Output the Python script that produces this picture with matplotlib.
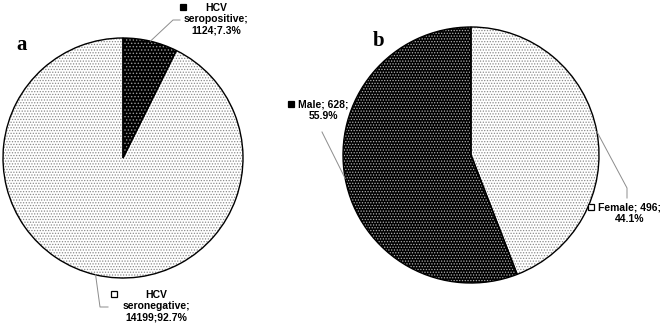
import matplotlib.pyplot as plt
import numpy as np
from matplotlib.patches import Rectangle

# data
hcv_labels = ["HCV\nseropositive;\n1124;7.3%", "HCV\nseronegative;\n14199;92.7%"]
hcv_counts = [1124, 14199]
sex_labels = ["Male; 628;\n55.9%", "Female; 496;\n44.1%"]
sex_counts = [628, 496]

W, H = 662, 327
plt.rcParams["font.family"] = ["Liberation Sans", "DejaVu Sans"]
plt.rcParams["hatch.linewidth"] = 0.6

fig = plt.figure(figsize=(W / 100, H / 100), dpi=100)
ax = fig.add_axes([0, 0, 1, 1])


def py(y):
    # pixel row -> data y
    return H - y


# pie a: seropositive first, clockwise from top
wa, _ = ax.pie(hcv_counts, center=(123, py(158)), radius=120, startangle=90,
               counterclock=False, wedgeprops=dict(linewidth=0))
# pie b: female first, clockwise from top
wb, _ = ax.pie(sex_counts[::-1], center=(471, py(155)), radius=128, startangle=90,
               counterclock=False, wedgeprops=dict(linewidth=0))
female_w, male_w = wb

styles = {
    "pos": dict(face="black", dots="#9a9a9a", hatch="....."),
    "neg": dict(face="white", dots="#8a8a8a", hatch="......"),
    "male": dict(face="black", dots="#b0b0b0", hatch="......"),
    "female": dict(face="white", dots="#8a8a8a", hatch="......"),
}


def style(p, s):
    p.set_facecolor(s["face"])
    p.set_edgecolor(s["dots"])
    p.set_hatch(s["hatch"])
    p.set_linewidth(0)


style(wa[0], styles["pos"])
style(wa[1], styles["neg"])
style(male_w, styles["male"])
style(female_w, styles["female"])

# outlines
ax.pie(hcv_counts, center=(123, py(158)), radius=120, startangle=90,
       counterclock=False, wedgeprops=dict(fill=False, edgecolor="black", linewidth=1.0))
ax.pie(sex_counts[::-1], center=(471, py(155)), radius=128, startangle=90,
       counterclock=False, wedgeprops=dict(fill=False, edgecolor="black", linewidth=1.0))


def edge_mid(w):
    a = np.deg2rad((w.theta1 + w.theta2) / 2)
    return w.center[0] + w.r * np.cos(a), w.center[1] + w.r * np.sin(a)


lead = dict(color="#8c8c8c", linewidth=0.7)
# leader lines
x0, y0 = edge_mid(wa[0])
ax.plot([x0, 173, 180], [y0, py(20), py(20)], **lead)
x0, y0 = edge_mid(wa[1])
ax.plot([x0, 100, 108], [y0, py(307), py(307)], **lead)
x0, y0 = edge_mid(male_w)
ax.plot([x0, 322], [y0, py(132)], **lead)
x0, y0 = edge_mid(female_w)
ax.plot([x0, 627, 627], [y0, py(188), py(198)], **lead)

tkw = dict(fontsize=7.5, fontweight="bold", ha="center", va="center", linespacing=1.15)
ax.text(216, py(19), hcv_labels[0], **tkw)
ax.text(156, py(306), hcv_labels[1], **tkw)
ax.text(323, py(110), sex_labels[0], **tkw)
ax.text(630, py(213), sex_labels[1], **tkw)


def key(x, y, s):
    ax.add_patch(Rectangle((x - 3, py(y) - 3), 6, 6, facecolor=s["face"],
                           edgecolor="black", linewidth=0.9))


key(183, 7, styles["pos"])
key(114, 294, styles["neg"])
key(291, 104, styles["male"])
key(591, 207, styles["female"])

ax.text(22, py(45), "a", fontsize=15, fontweight="bold", family="Liberation Serif",
        ha="center", va="center")
ax.text(379, py(41), "b", fontsize=15, fontweight="bold", family="Liberation Serif",
        ha="center", va="center")

ax.set_xlim(0, W)
ax.set_ylim(0, H)
ax.set_aspect("auto")
ax.axis("off")
fig.savefig("out.png", dpi=100)
